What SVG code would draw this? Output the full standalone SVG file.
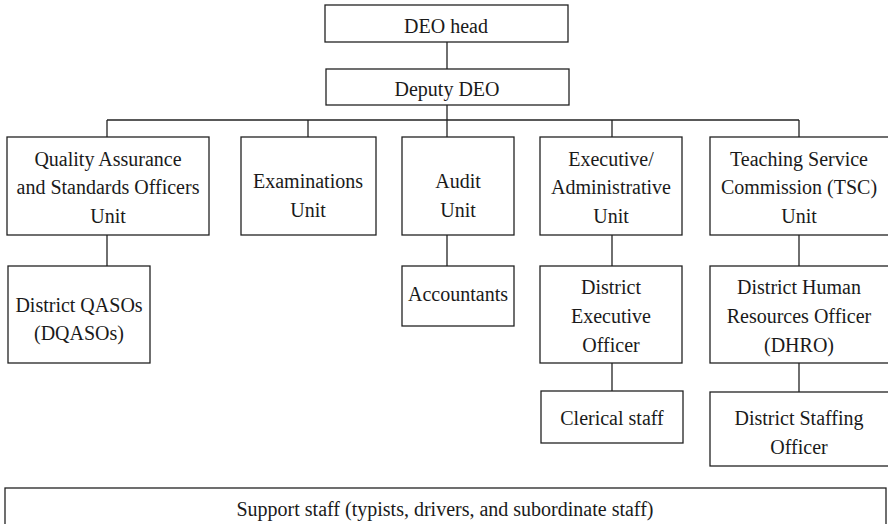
<svg xmlns="http://www.w3.org/2000/svg" width="888" height="524" viewBox="0 0 888 524">
  <style>
    .box { fill: #ffffff; stroke: #222222; stroke-width: 1.3; }
    .wire { fill: none; stroke: #222222; stroke-width: 1.3; }
    .lbl { font-family: "Liberation Serif", "Tinos", "Nimbus Roman", "Noto Serif", "FreeSerif", "DejaVu Serif", Georgia, serif; font-size: 20px; fill: #1a1a1a; text-anchor: middle; }
  </style>
  <rect width="888" height="524" fill="#ffffff"/>

  <!-- reporting lines -->
  <g id="connectors">
    <line class="wire" x1="447" y1="42" x2="447" y2="69"/>
    <line class="wire" x1="447" y1="105" x2="447" y2="137"/>
    <line class="wire" x1="107" y1="120" x2="799" y2="120"/>
    <line class="wire" x1="107" y1="120" x2="107" y2="137"/>
    <line class="wire" x1="308" y1="120" x2="308" y2="137"/>
    <line class="wire" x1="612" y1="120" x2="612" y2="137"/>
    <line class="wire" x1="799" y1="120" x2="799" y2="137"/>
    <line class="wire" x1="107" y1="235" x2="107" y2="266"/>
    <line class="wire" x1="447" y1="235" x2="447" y2="266"/>
    <line class="wire" x1="612" y1="235" x2="612" y2="266"/>
    <line class="wire" x1="799" y1="235" x2="799" y2="266"/>
    <line class="wire" x1="612" y1="363" x2="612" y2="391"/>
    <line class="wire" x1="799" y1="363" x2="799" y2="392"/>
  </g>

  <g id="deo-head">
    <rect class="box" x="325" y="5" width="243" height="37"/>
    <text class="lbl" x="446" y="33">DEO head</text>
  </g>

  <g id="deputy-deo">
    <rect class="box" x="326" y="69" width="243" height="36"/>
    <text class="lbl" x="447" y="96">Deputy DEO</text>
  </g>

  <g id="qaso-unit">
    <rect class="box" x="7" y="137" width="202" height="98"/>
    <text class="lbl" x="108" y="166">Quality Assurance</text>
    <text class="lbl" x="108" y="194">and Standards Officers</text>
    <text class="lbl" x="108" y="223">Unit</text>
  </g>

  <g id="examinations-unit">
    <rect class="box" x="241" y="137" width="135" height="98"/>
    <text class="lbl" x="308" y="188">Examinations</text>
    <text class="lbl" x="308" y="217">Unit</text>
  </g>

  <g id="audit-unit">
    <rect class="box" x="402" y="137" width="112" height="98"/>
    <text class="lbl" x="458" y="188">Audit</text>
    <text class="lbl" x="458" y="217">Unit</text>
  </g>

  <g id="executive-unit">
    <rect class="box" x="540" y="137" width="142" height="98"/>
    <text class="lbl" x="611" y="166">Executive/</text>
    <text class="lbl" x="611" y="194">Administrative</text>
    <text class="lbl" x="611" y="223">Unit</text>
  </g>

  <g id="tsc-unit">
    <rect class="box" x="710" y="137" width="182" height="98"/>
    <text class="lbl" x="799" y="166">Teaching Service</text>
    <text class="lbl" x="799" y="194">Commission (TSC)</text>
    <text class="lbl" x="799" y="223">Unit</text>
  </g>

  <g id="dqasos">
    <rect class="box" x="8" y="266" width="142" height="97"/>
    <text class="lbl" x="79" y="312">District QASOs</text>
    <text class="lbl" x="79" y="340">(DQASOs)</text>
  </g>

  <g id="accountants">
    <rect class="box" x="402" y="266" width="112" height="60"/>
    <text class="lbl" x="458" y="301">Accountants</text>
  </g>

  <g id="district-executive-officer">
    <rect class="box" x="540" y="266" width="142" height="97"/>
    <text class="lbl" x="611" y="294">District</text>
    <text class="lbl" x="611" y="323">Executive</text>
    <text class="lbl" x="611" y="352">Officer</text>
  </g>

  <g id="dhro">
    <rect class="box" x="710" y="266" width="182" height="97"/>
    <text class="lbl" x="799" y="294">District Human</text>
    <text class="lbl" x="799" y="323">Resources Officer</text>
    <text class="lbl" x="799" y="352">(DHRO)</text>
  </g>

  <g id="clerical-staff">
    <rect class="box" x="541" y="391" width="142" height="52"/>
    <text class="lbl" x="612" y="425">Clerical staff</text>
  </g>

  <g id="district-staffing-officer">
    <rect class="box" x="710" y="392" width="182" height="74"/>
    <text class="lbl" x="799" y="425">District Staffing</text>
    <text class="lbl" x="799" y="454">Officer</text>
  </g>

  <g id="support-staff">
    <rect class="box" x="5" y="488" width="881" height="50"/>
    <text class="lbl" x="445" y="516">Support staff (typists, drivers, and subordinate staff)</text>
  </g>
</svg>
